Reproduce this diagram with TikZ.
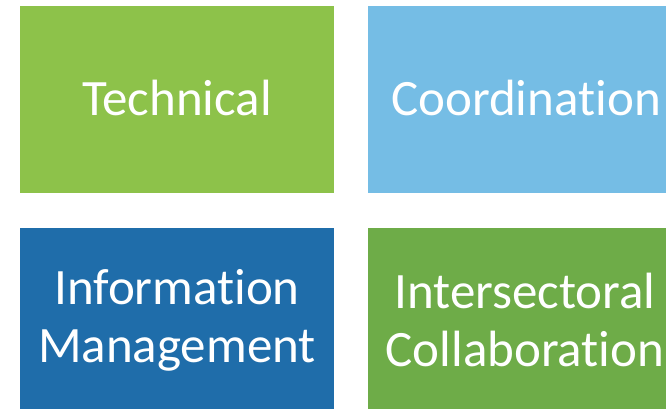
\documentclass[tikz,border=0pt]{standalone}
\usepackage{fontspec}
\setmainfont{Carlito}[Ligatures=NoCommon]
\definecolor{cgreen}{HTML}{8DC24A}
\definecolor{cblue}{HTML}{75BDE5}
\definecolor{cdblue}{HTML}{1F6DAA}
\definecolor{cdgreen}{HTML}{6EAC48}
\begin{document}
\begin{tikzpicture}[x=1pt,y=-1pt,
  tile/.style={minimum width=314pt,minimum height=187pt,inner sep=0pt,outer sep=0pt,
    fill=#1},
  lbl/.style={text=white,align=center,inner sep=0pt,font=\fontsize{51pt}{58pt}\selectfont}]
\useasboundingbox (0,0) rectangle (666,408);
\clip (0,0) rectangle (666,408);
\node[tile=cgreen] (tech) at (177,99.5) {};
\node[tile=cblue] (coord) at (525,99.5) {};
\node[tile=cdblue] (info) at (177,321.5) {};
\node[tile=cdgreen] (inter) at (525,321.5) {};
\node[lbl] (techt) at (177,97.5) {Technical};
\node[lbl] (coordt) at (526,97.5) {Coordination};
\node[lbl] (infot) at (177,320) {Information\\Management};
\node[lbl] (intert) at (525,320) {Intersectoral\\Collaboration};
\end{tikzpicture}
\end{document}
